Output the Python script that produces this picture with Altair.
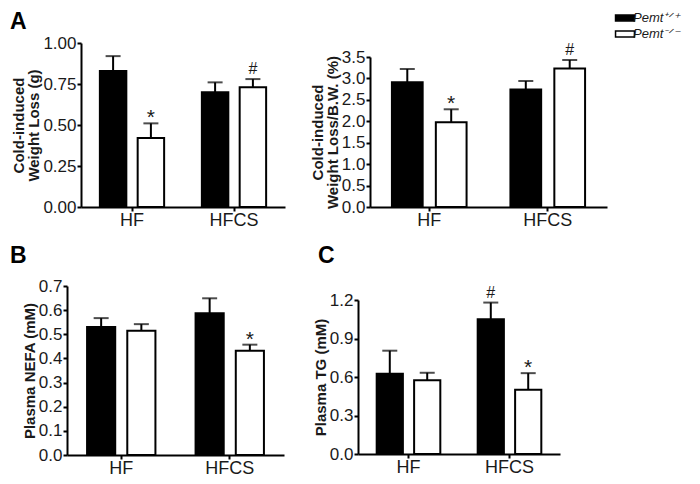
import altair as alt
import pandas as pd

groups = ["HF", "HFCS"]
genotypes = ["Pemt\u207a\u141f\u207a", "Pemt\u207b\u141f\u207b"]

# Panel A (left): cold-induced weight loss (g)
a1_mean_wt = [0.83, 0.70]
a1_mean_ko = [0.42, 0.73]
a1_sem_wt = [0.09, 0.06]
a1_sem_ko = [0.09, 0.05]
a1_sig_wt = ["", ""]
a1_sig_ko = ["*", "#"]

# Panel A (right): cold-induced weight loss / body weight (%)
a2_mean_wt = [2.91, 2.74]
a2_mean_ko = [1.98, 3.23]
a2_sem_wt = [0.31, 0.20]
a2_sem_ko = [0.30, 0.20]
a2_sig_wt = ["", ""]
a2_sig_ko = ["*", "#"]

# Panel B: plasma NEFA (mM)
b_mean_wt = [0.530, 0.587]
b_mean_ko = [0.515, 0.432]
b_sem_wt = [0.037, 0.062]
b_sem_ko = [0.027, 0.025]
b_sig_wt = ["", ""]
b_sig_ko = ["", "*"]

# Panel C: plasma TG (mM)
c_mean_wt = [0.625, 1.05]
c_mean_ko = [0.575, 0.50]
c_sem_wt = [0.18, 0.13]
c_sem_ko = [0.058, 0.13]
c_sig_wt = ["", "#"]
c_sig_ko = ["", "*"]

W, H = 684, 468
LABEL_FONT = "Liberation Sans Narrow, Arial Narrow, Liberation Sans, Arial"
TITLE_FONT = "Liberation Sans, Arial"


def make_df(mwt, mko, swt, sko, gwt, gko):
    rows = []
    for i, g in enumerate(groups):
        rows.append(dict(group=g, genotype=genotypes[0], mean=mwt[i], upper=mwt[i] + swt[i], sig=gwt[i]))
        rows.append(dict(group=g, genotype=genotypes[1], mean=mko[i], upper=mko[i] + sko[i], sig=gko[i]))
    return pd.DataFrame(rows)


def panel(df, xr, yr, dom, ticks, fmt, title):
    x = alt.X(
        "group:N",
        sort=groups,
        scale=alt.Scale(domain=groups, range=xr, paddingInner=0.37, paddingOuter=0.185),
        axis=alt.Axis(
            title=None, orient="bottom", offset=yr[0] - H, labelAngle=0,
            domainColor="black", domainWidth=2, tickColor="black", tickWidth=2, tickSize=4,
            labelFont=LABEL_FONT, labelFontSize=18, labelColor="#1a1a1a", labelPadding=0,
            grid=False,
        ),
    )
    xo = alt.XOffset("genotype:N", sort=genotypes,
                     scale=alt.Scale(domain=genotypes, paddingInner=0.3, paddingOuter=0))

    def y(field):
        return alt.Y(
            field + ":Q",
            scale=alt.Scale(domain=dom, range=yr, nice=False, zero=True),
            axis=alt.Axis(
                title=title, orient="left", offset=-xr[0], values=ticks, format=fmt,
                domainColor="black", domainWidth=2, tickColor="black", tickWidth=2, tickSize=4,
                labelFont=LABEL_FONT, labelFontSize=17, labelColor="#1a1a1a", labelPadding=1,
                titleFont=TITLE_FONT, titleFontSize=15, titleFontWeight="bold", titleColor="#1a1a1a",
                titlePadding=1, titleLineHeight=15, grid=False,
            ),
        )

    base = alt.Chart(df)
    rule = base.mark_rule(color="black", strokeWidth=2).encode(
        x=x, xOffset=xo, y=y("mean"), y2="upper:Q")
    cap = base.mark_tick(color="black", thickness=2, size=15).encode(
        x=x, xOffset=xo, y=y("upper"))
    bars = base.mark_bar(stroke="black", strokeWidth=2).encode(
        x=x, xOffset=xo, y=y("mean"),
        color=alt.Color(
            "genotype:N",
            scale=alt.Scale(domain=genotypes, range=["black", "white"]),
            legend=alt.Legend(
                title=None, orient="none", legendX=610, legendY=3,
                symbolType="M-1.6,-0.5L1.6,-0.5L1.6,0.5L-1.6,0.5Z", symbolSize=140,
                symbolStrokeColor="black", symbolStrokeWidth=1.5,
                labelFont=TITLE_FONT, labelFontSize=13, labelFontStyle="italic", labelColor="#1a1a1a",
                labelOffset=1, rowPadding=2, padding=0,
            ),
        ),
    )
    star = base.mark_text(baseline="bottom", dy=5, fontSize=21, font=TITLE_FONT, color="#1a1a1a").encode(
        x=x, xOffset=xo, y=y("upper"), text="sig:N").transform_filter(alt.datum.sig == "*")
    hsh = base.mark_text(baseline="bottom", dy=-2, fontSize=16, font=TITLE_FONT, color="#1a1a1a").encode(
        x=x, xOffset=xo, y=y("upper"), text="sig:N").transform_filter(alt.datum.sig == "#")
    return alt.layer(rule, bars, cap, star, hsh)


pA1 = panel(make_df(a1_mean_wt, a1_mean_ko, a1_sem_wt, a1_sem_ko, a1_sig_wt, a1_sig_ko),
            [73, 277], [199, 35], [0, 1.0], [0, 0.25, 0.5, 0.75, 1.0], ".2f",
            ["Cold-induced", "Weight Loss  (g)"])
pA2 = panel(make_df(a2_mean_wt, a2_mean_ko, a2_sem_wt, a2_sem_ko, a2_sig_wt, a2_sig_ko),
            [362, 599], [199, 49], [0, 3.5], [0, 0.5, 1.0, 1.5, 2.0, 2.5, 3.0, 3.5], ".1f",
            ["Cold-induced", "Weight Loss/B.W.  (%)"])
pB = panel(make_df(b_mean_wt, b_mean_ko, b_sem_wt, b_sem_ko, b_sig_wt, b_sig_ko),
           [59, 276], [447, 278], [0, 0.7], [0, 0.1, 0.2, 0.3, 0.4, 0.5, 0.6, 0.7], ".1f",
           "Plasma NEFA  (mM)")
pC = panel(make_df(c_mean_wt, c_mean_ko, c_sem_wt, c_sem_ko, c_sig_wt, c_sig_ko),
           [350, 552], [446, 292], [0, 1.2], [0, 0.3, 0.6, 0.9, 1.2], ".1f",
           "Plasma TG  (mM)")

letters = ["A", "B", "C"]


def letter(txt, px, py):
    return alt.Chart(pd.DataFrame({"t": [txt]})).mark_text(
        align="left", baseline="alphabetic", fontSize=23, fontWeight="bold",
        font=TITLE_FONT, color="black").encode(
        text="t:N", x=alt.value(px), y=alt.value(py))


chart = alt.layer(
    pA1, pA2, pB, pC,
    letter(letters[0], 2, 21), letter(letters[1], 2, 255), letter(letters[2], 310, 255),
).resolve_scale(
    x="independent", y="independent", xOffset="independent"
).properties(
    width=W, height=H, autosize="none", padding=0
).configure_view(stroke=None)

chart.save("out.html", embed_options={"renderer": "svg", "actions": False})
